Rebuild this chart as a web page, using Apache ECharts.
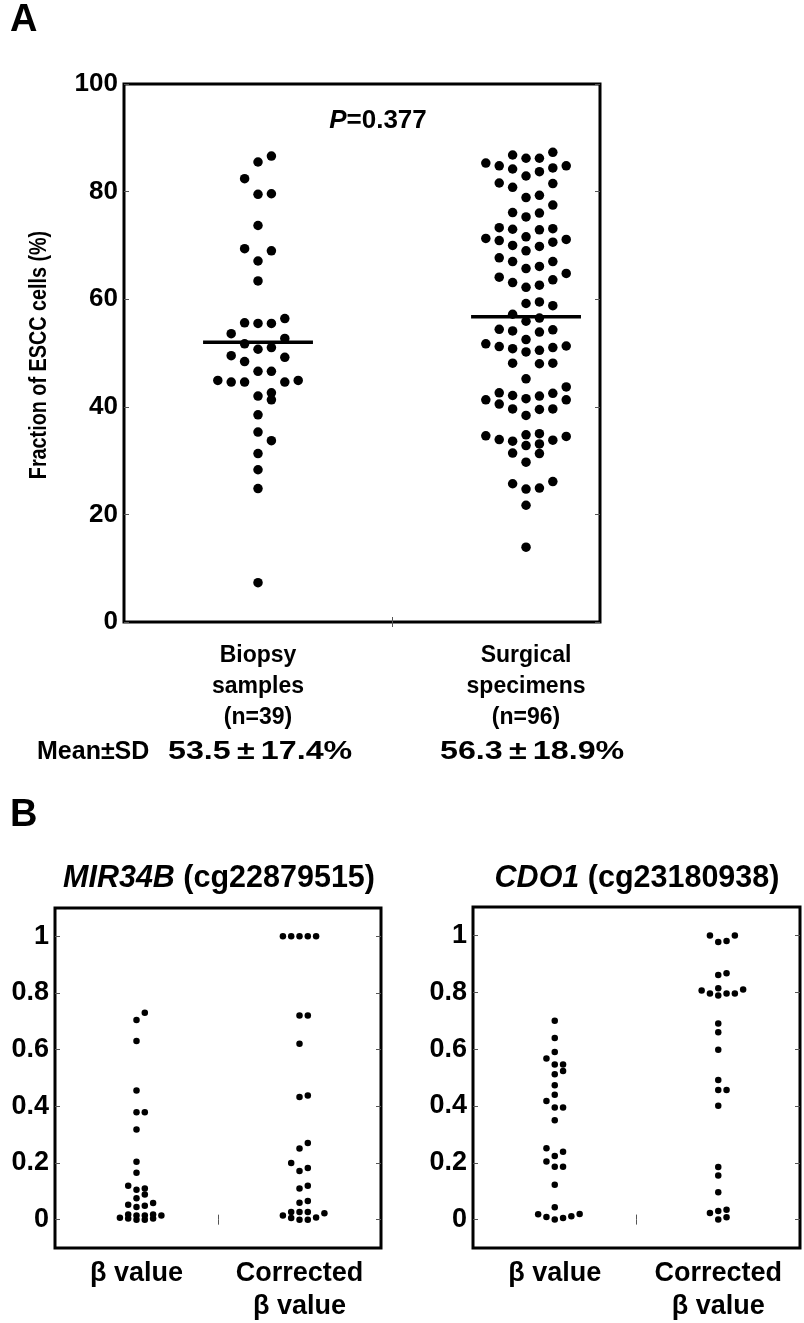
<!DOCTYPE html>
<html>
<head>
<meta charset="utf-8">
<script src="https://cdn.jsdelivr.net/npm/echarts@6/dist/echarts.min.js"></script>
<style>
  html, body { margin: 0; padding: 0; background: #fff; }
  #chart { width: 804px; height: 1323px; }
</style>
</head>
<body>
<div id="chart"></div>
<script>
const FONT = '"Liberation Sans", Arial, sans-serif';

// ---- panel A: fraction of ESCC cells (%) ----
const groupsA = ["Biopsy\nsamples\n(n=39)", "Surgical\nspecimens\n(n=96)"];
const meanA = ["53.5", "56.3"];
const sdA = ["17.4", "18.9"];
const pValueA = "0.377";
const yTicksA = [0, 20, 40, 60, 80, 100];

const biopsy = [
  86.6, 85.5, 82.4, 79.5, 79.6, 73.7, 69.4, 69.0, 67.1, 63.4,
  56.4, 55.5, 55.5, 55.6, 53.6, 52.7, 51.7, 50.7, 51.0, 49.2,
  49.5, 48.4, 46.6, 46.6, 44.6, 44.6, 44.9, 44.9, 44.6, 41.3,
  42.0, 42.6, 38.5, 35.3, 33.7, 31.3, 28.3, 24.8, 7.3
];
const surgical = [
  87.3, 86.2, 85.3, 86.2, 86.8, 84.8, 84.4, 83.7, 82.9, 84.2,
  84.8, 81.5, 80.8, 81.6, 79.3, 78.9, 77.5, 76.1, 75.3, 76.0,
  73.3, 72.9, 73.0, 73.1, 70.9, 71.6, 70.0, 71.3, 69.8, 70.6,
  71.1, 69.0, 67.7, 67.0, 65.7, 66.1, 67.0, 64.8, 63.6, 62.6,
  62.2, 63.1, 64.1, 59.2, 58.8, 59.5, 56.5, 57.2, 55.9, 53.9,
  54.4, 54.1, 54.3, 52.5, 51.7, 50.5, 51.2, 51.0, 51.3, 50.2,
  50.8, 48.1, 48.0, 48.1, 45.2, 43.7, 41.3, 42.5, 42.0, 41.3,
  41.5, 42.1, 40.5, 42.6, 39.6, 39.6, 38.4, 39.5, 34.6, 33.8,
  33.6, 34.8, 33.1, 35.0, 33.9, 34.5, 32.8, 31.4, 31.3, 29.7,
  26.1, 24.7, 24.9, 25.7, 21.7, 13.9
];

// ---- panel B: beta values ----
const groupsB = ["β value", "Corrected\nβ value"];
const yTicksB = [0, 0.2, 0.4, 0.6, 0.8, 1];

const mir34bBeta = [
  0.730, 0.705, 0.631, 0.456, 0.379, 0.379, 0.318, 0.204, 0.166, 0.120,
  0.106, 0.110, 0.089, 0.076, 0.059, 0.053, 0.045, 0.049, 0.015, 0.004,
  0.018, 0.000, 0.018, 0.000, 0.015, 0.004, 0.015, 0.007
];
const mir34bCorrected = [
  1, 1, 1, 1, 1, 0.721, 0.721, 0.621, 0.438, 0.433,
  0.271, 0.251, 0.200, 0.172, 0.182, 0.120, 0.110, 0.066, 0.060, 0.023,
  0.008, 0.027, 0.000, 0.027, 0.000, 0.027, 0.006, 0.015
];
const cdo1Beta = [
  0.700, 0.639, 0.590, 0.567, 0.546, 0.546, 0.523, 0.511, 0.473, 0.439,
  0.417, 0.394, 0.394, 0.350, 0.251, 0.239, 0.224, 0.204, 0.186, 0.186,
  0.123, 0.043, 0.020, 0.012, 0.006, 0.000, 0.009, 0.019
];
const cdo1Corrected = [
  1, 0.980, 0.977, 1, 0.861, 0.867, 0.810, 0.796, 0.796, 0.814,
  0.789, 0.796, 0.806, 0.690, 0.659, 0.598, 0.491, 0.456, 0.456, 0.401,
  0.185, 0.155, 0.096, 0.030, 0.008, 0.000, 0.023, 0.035
];

// grid boxes (pixels), axis ranges, dot look and row binning for the swarm
const panels = [
  { box: { left: 124, top: 84, width: 476, height: 538 }, x: [0.5, 2.276], y: [0, 100],
    dot: 9.5, slotPx: 13.4, rowH: 3.0, rowMax: 7 },
  { box: { left: 55, top: 908, width: 326, height: 341 }, x: [0.5, 2.5], y: [-0.1, 1.1],
    dot: 6.5, slotPx: 8.3, rowH: 0.03, rowMax: 6 },
  { box: { left: 473, top: 907, width: 327, height: 341 }, x: [0.5, 2.5], y: [-0.1, 1.1],
    dot: 6.5, slotPx: 8.3, rowH: 0.03, rowMax: 6 }
];

// row-binned swarm: sorted values are cut into rows, and inside a row the
// lowest sits in the middle and the rest fan out to +1, -1, +2, -2 ...
function swarm(values, center, p) {
  const pxX = p.box.width / (p.x[1] - p.x[0]);
  const sorted = [...values].sort((a, b) => a - b);
  const out = [];
  let row = [];
  const flush = () => {
    row.forEach((v, i) => {
      const slot = i === 0 ? 0 : (i % 2 ? (i + 1) / 2 : -i / 2);
      out.push([center + slot * p.slotPx / pxX, v]);
    });
    row = [];
  };
  sorted.forEach(v => {
    if (row.length && (v - row[0] >= p.rowH || row.length >= p.rowMax)) flush();
    row.push(v);
  });
  flush();
  return out;
}

const mean = arr => arr.reduce((s, v) => s + v, 0) / arr.length;

const bold = { color: '#000', fontFamily: FONT, fontWeight: 'bold' };

function axesFor(g, p, xLabels, yTicks, yLabelSize, xLabelSize, xLineHeight, xMargin) {
  const tick = { inside: true, length: 5, lineStyle: { color: '#555', width: 1 } };
  const xs = [
    {
      type: 'value', gridIndex: g, min: p.x[0], max: p.x[1], position: 'bottom',
      axisLine: { show: false }, splitLine: { show: false },
      axisTick: Object.assign({ customValues: [1.5] }, tick),
      axisLabel: Object.assign({ customValues: [1, 2], formatter: v => xLabels[Math.round(v) - 1],
        fontSize: xLabelSize, lineHeight: xLineHeight, margin: xMargin, align: 'center' }, bold)
    },
    {
      type: 'value', gridIndex: g, min: p.x[0], max: p.x[1], position: 'top',
      axisLine: { show: false }, splitLine: { show: false }, axisLabel: { show: false },
      axisTick: Object.assign({ customValues: [1.5] }, tick)
    }
  ];
  const ys = [
    {
      type: 'value', gridIndex: g, min: p.y[0], max: p.y[1], position: 'left',
      axisLine: { show: false }, splitLine: { show: false },
      axisTick: Object.assign({ customValues: yTicks }, tick),
      axisLabel: Object.assign({ customValues: yTicks, fontSize: yLabelSize, margin: 6 }, bold)
    },
    {
      type: 'value', gridIndex: g, min: p.y[0], max: p.y[1], position: 'right',
      axisLine: { show: false }, splitLine: { show: false }, axisLabel: { show: false },
      axisTick: Object.assign({ customValues: yTicks }, tick)
    }
  ];
  return { xs, ys };
}

const axA = axesFor(0, panels[0], groupsA, yTicksA, 26, 23, 31, 18);
const axB1 = axesFor(1, panels[1], groupsB, yTicksB, 27, 27, 33, 9);
const axB2 = axesFor(2, panels[2], groupsB, yTicksB, 27, 27, 33, 9);

function dots(g, data, p) {
  return {
    type: 'scatter', xAxisIndex: 2 * g, yAxisIndex: 2 * g, data,
    symbol: 'circle', symbolSize: p.dot, itemStyle: { color: '#000', opacity: 1 },
    silent: true, z: 3
  };
}
function meanBar(g, center, value) {
  return {
    type: 'line', xAxisIndex: 2 * g, yAxisIndex: 2 * g,
    data: [[center - 0.205, value], [center + 0.205, value]],
    symbol: 'none', lineStyle: { color: '#000', width: 3.5 }, silent: true, z: 4
  };
}

const titleStyle = (text) => Object.assign({
  text, fontSize: 30.5, align: 'center', verticalAlign: 'middle',
  rich: { i: Object.assign({ fontStyle: 'italic', fontSize: 30.5 }, bold) }
}, bold);

// "53.5±17.4%" is set wider in the figure
const meanSdStyle = (m, sd) => Object.assign({
  text: m + '{pm|±}' + sd + '%', fontSize: 26, verticalAlign: 'middle',
  rich: { pm: Object.assign({ fontSize: 26, padding: [0, 5] }, bold) }
}, bold);

const option = {
  animation: false,
  backgroundColor: '#fff',
  grid: panels.map(p => Object.assign({ show: true, borderColor: '#000', borderWidth: 3,
    backgroundColor: 'transparent' }, p.box)),
  xAxis: [...axA.xs, ...axB1.xs, ...axB2.xs],
  yAxis: [...axA.ys, ...axB1.ys, ...axB2.ys],
  series: [
    dots(0, swarm(biopsy, 1, panels[0]), panels[0]),
    dots(0, swarm(surgical, 2, panels[0]), panels[0]),
    meanBar(0, 1, mean(biopsy)),
    meanBar(0, 2, mean(surgical)),
    dots(1, swarm(mir34bBeta, 1, panels[1]), panels[1]),
    dots(1, swarm(mir34bCorrected, 2, panels[1]), panels[1]),
    dots(2, swarm(cdo1Beta, 1, panels[2]), panels[2]),
    dots(2, swarm(cdo1Corrected, 2, panels[2]), panels[2])
  ],
  graphic: [
    { type: 'text', left: 10, top: 2, style: Object.assign({ text: 'A', fontSize: 38 }, bold) },
    { type: 'text', left: 10, top: 797, style: Object.assign({ text: 'B', fontSize: 38 }, bold) },
    // y-axis title of panel A, slightly condensed along its length
    { type: 'text', x: 40, y: 355, rotation: Math.PI / 2, scaleX: 0.86,
      style: Object.assign({ text: 'Fraction of ESCC cells (%)', fontSize: 23,
        align: 'center', verticalAlign: 'middle' }, bold) },
    { type: 'text', x: 378, y: 121, style: Object.assign({
        text: '{i|P}=' + pValueA, fontSize: 26, align: 'center', verticalAlign: 'middle',
        rich: { i: Object.assign({ fontStyle: 'italic', fontSize: 26 }, bold) } }, bold) },
    { type: 'text', x: 37, y: 752, style: Object.assign({ text: 'Mean±SD', fontSize: 25, verticalAlign: 'middle' }, bold) },
    { type: 'text', x: 168, y: 752, scaleX: 1.24, style: meanSdStyle(meanA[0], sdA[0]) },
    { type: 'text', x: 440, y: 752, scaleX: 1.24, style: meanSdStyle(meanA[1], sdA[1]) },
    { type: 'text', x: 219, y: 879, style: titleStyle('{i|MIR34B} (cg22879515)') },
    { type: 'text', x: 637, y: 879, style: titleStyle('{i|CDO1} (cg23180938)') }
  ]
};

const chart = echarts.init(document.getElementById('chart'), null, { renderer: 'canvas' });
chart.setOption(option);
</script>
</body>
</html>
